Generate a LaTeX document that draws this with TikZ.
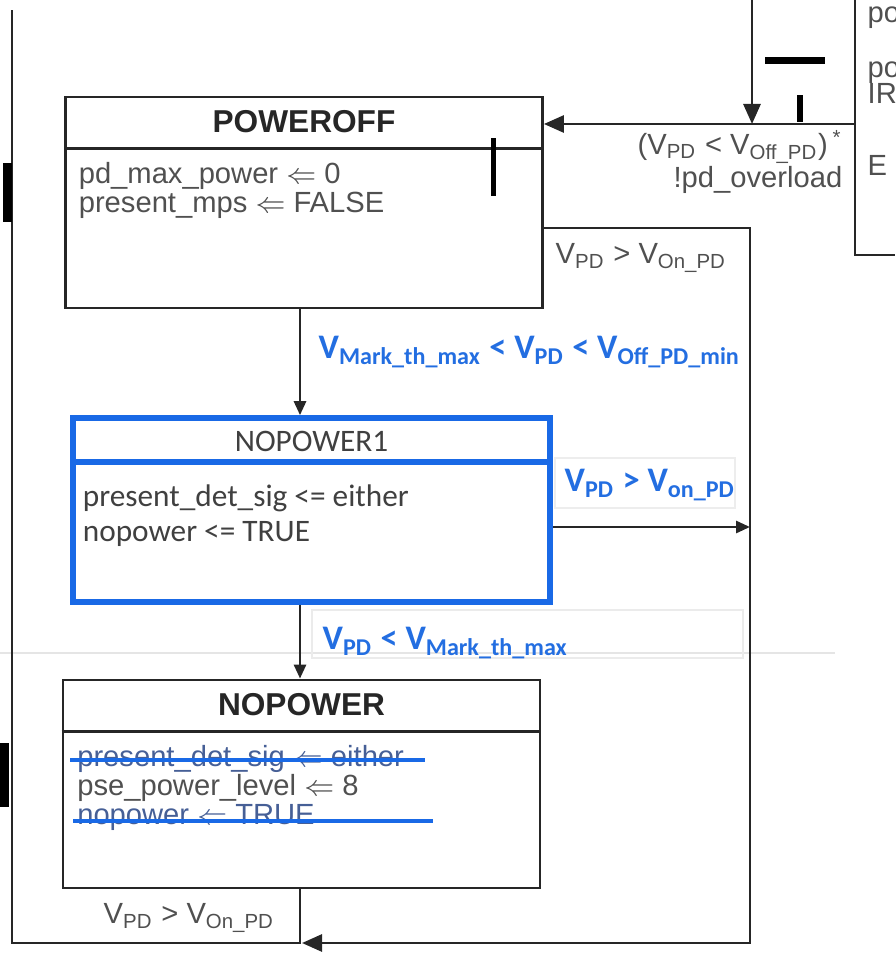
\documentclass[tikz,border=0pt]{standalone}
\usepackage{fontspec}
\setmainfont{Liberation Sans}
\newfontfamily\calfont{Carlito}
\usetikzlibrary{arrows.meta}

\definecolor{boxblue}{RGB}{25,105,230}
\definecolor{lblblue}{RGB}{35,110,225}
\definecolor{txtgray}{RGB}{80,80,80}
\definecolor{strucktxt}{RGB}{70,95,150}

\begin{document}
\begin{tikzpicture}[x=1cm, y=-1cm,
	state/.style={draw=black!85, line width=0.8pt, minimum width=4.77cm, inner sep=0pt},
	bluestate/.style={state, draw=boxblue, line width=1.6pt},
	title/.style={font=\fontsize{9}{10}\selectfont\bfseries, text=black!85},
	body/.style={font=\fontsize{8.3}{8.3}\selectfont, text=txtgray, align=left, inner sep=0pt},
	calbody/.style={font=\calfont\fontsize{8.9}{10}\selectfont, text=black!75, align=left, inner sep=0pt},
	guard/.style={font=\calfont\fontsize{9.8}{11}\selectfont\bfseries, text=lblblue, inner sep=0pt},
	wire/.style={line width=0.8pt, draw=black!85},
	arr/.style={wire, -{Triangle[length=1.4mm, width=1.2mm]}},
	arrbig/.style={wire, -{Triangle[length=2mm, width=1.7mm]}},
	strike/.style={line width=1.1pt, draw=boxblue}]
	\useasboundingbox (0,0) rectangle (8.95,9.56);
	% scan traces
	\draw[black!10, line width=0.5pt] (0,6.53) -- (8.35,6.53);
	\draw[black!8, line width=0.5pt] (3.12,6.10) rectangle (7.43,6.58);
	\draw[black!7, line width=0.5pt] (5.55,4.58) rectangle (7.35,5.08);
	% states
	\node[state, minimum height=2.11cm] (poweroff) at (3.04,2.025) {};
	\draw[wire] ([yshift=-0.53cm]poweroff.north west) -- ([yshift=-0.53cm]poweroff.north east);
	\node[title] (powerofftitle) at ([yshift=-0.265cm]poweroff.north) {POWEROFF};
	\node[body, anchor=north west] (poweroffbody) at ([xshift=0.14cm, yshift=-0.66cm]poweroff.north west) {pd\_max\_power $\Leftarrow$ 0\\present\_mps $\Leftarrow$ FALSE};
	\node[bluestate, minimum height=1.84cm] (nopower1) at (3.115,5.10) {};
	\draw[boxblue, line width=1.6pt] ([yshift=-0.47cm]nopower1.north west) -- ([yshift=-0.47cm]nopower1.north east);
	\node[calbody] (nopower1title) at ([yshift=-0.26cm]nopower1.north) {NOPOWER1};
	\node[calbody, anchor=north west] (nopower1body) at ([xshift=0.12cm, yshift=-0.69cm]nopower1.north west) {present\_det\_sig <= either\\nopower <= TRUE};
	\node[state, minimum height=2.08cm] (nopower) at (3.015,7.84) {};
	\draw[wire] ([yshift=-0.53cm]nopower.north west) -- ([yshift=-0.53cm]nopower.north east);
	\node[title] (nopowertitle) at ([yshift=-0.265cm]nopower.north) {NOPOWER};
	\node[body, anchor=north west] (nopowerbody) at ([xshift=0.15cm, yshift=-0.66cm]nopower.north west) {\textcolor{strucktxt}{present\_det\_sig $\Leftarrow$ either}\\pse\_power\_level $\Leftarrow$ 8\\\textcolor{strucktxt}{nopower $\Leftarrow$ TRUE}};
	\draw[strike] (0.70,7.60) -- (4.25,7.60);
	\draw[strike] (0.73,8.21) -- (4.33,8.21);
	% rails
	\coordinate (spine) at (3.00,0);
	\coordinate (leftrail) at (0.12,0.10);
	\coordinate (floor) at (0,9.43);
	\coordinate (rightrail) at (7.50,2.28);
	\coordinate (ext) at (8.55,1.24);
	\coordinate (drop) at (7.52,0);
	% transitions
	\draw[arr] (poweroff.south -| spine) -- (nopower1.north -| spine);
	\draw[arr] (nopower1.south -| spine) -- (nopower.north -| spine);
	\draw[wire] (nopower.south -| spine) -- (floor -| spine) -- (floor -| leftrail) -- (leftrail);
	\draw[arrbig] (poweroff.east |- rightrail) -- (rightrail) -- (rightrail |- floor) -- ([xshift=0.02cm]floor -| spine);
	\draw[arr] ([yshift=-0.17cm]nopower1.east) -- ([yshift=-0.17cm]nopower1.east -| rightrail);
	\draw[arrbig] (ext) -- (poweroff.east |- ext);
	\draw[arrbig] (drop) -- (drop |- ext);
	\draw[wire] (8.55,0) -- (8.55,2.55) -- (8.95,2.55);
	% marks
	\fill[black] (7.65,0.57) rectangle (8.25,0.64);
	\fill[black] (7.97,0.95) rectangle (8.03,1.22);
	\fill[black] (4.905,1.38) rectangle (4.955,1.96);
	\fill[black] (0.03,1.63) rectangle (0.12,2.22);
	\fill[black] (0.00,7.43) rectangle (0.09,8.07);
	% guards
	\node[body, anchor=east, align=right] (offguard) at (8.43,1.62) {(V\textsubscript{PD} < V\textsubscript{Off\_PD})\,\textsuperscript{*}\\!pd\_overload};
	\node[body, anchor=west] (onguard) at (5.55,2.58) {V\textsubscript{PD} > V\textsubscript{On\_PD}};
	\node[guard, anchor=west] (markguard) at (3.18,3.52) {V\textsubscript{Mark\_th\_max} < V\textsubscript{PD} < V\textsubscript{Off\_PD\_min}};
	\node[guard, anchor=west] (onguardb) at (5.64,4.85) {V\textsubscript{PD} > V\textsubscript{on\_PD}};
	\node[guard, anchor=west] (lowguard) at (3.22,6.43) {V\textsubscript{PD} < V\textsubscript{Mark\_th\_max}};
	\node[body, anchor=west] (onguardc) at (1.03,9.18) {V\textsubscript{PD} > V\textsubscript{On\_PD}};
	% neighbouring state, cut by the edge
	\begin{scope}
		\clip (8.55,0) rectangle (8.95,2.55);
		\node[body, anchor=west] (extA) at (8.67,0.18) {po};
		\node[body, anchor=west] (extB) at (8.67,0.73) {po};
		\node[body, anchor=west] (extC) at (8.67,0.93) {IR};
		\node[body, anchor=west] (extD) at (8.67,1.65) {E};
	\end{scope}
\end{tikzpicture}
\end{document}
